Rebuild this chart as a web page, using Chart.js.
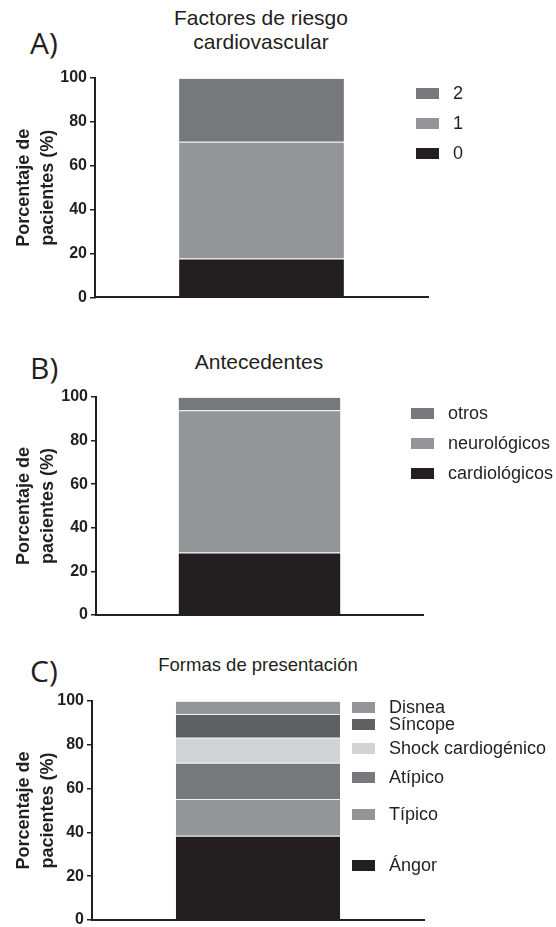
<!DOCTYPE html>
<html>
<head>
<meta charset="utf-8">
<script src="https://cdn.jsdelivr.net/npm/chart.js@4.4.1/dist/chart.umd.min.js"></script>
<style>
  body { margin: 0; background: #fff; }
  #page { position: relative; width: 556px; height: 927px; overflow: hidden;
          font-family: "Liberation Sans", Arial, sans-serif; color: #231f20; }
  canvas { position: absolute; left: 0; }
  .title { position: absolute; white-space: nowrap; transform: translateX(-50%); text-align: center; }
  .letter { position: absolute; left: 30px; font-family: "Open Sans", sans-serif; font-size: 30px; line-height: 30px; }
  .lg { position: absolute; font-size: 18px; line-height: 18px; white-space: nowrap; }
  .sw { position: absolute; width: 23px; height: 11px; }
</style>
</head>
<body>
<div id="page">
  <div class="letter" style="top:28px">A)</div>
  <div class="title" style="left:261px;top:6px;font-size:21px;line-height:24px">Factores de riesgo<br>cardiovascular</div>
  <canvas id="chartA" width="556" height="310" style="top:0"></canvas>

  <div class="letter" style="top:353px">B)</div>
  <div class="title" style="left:259px;top:351px;font-size:21px;line-height:21px">Antecedentes</div>
  <canvas id="chartB" width="556" height="320" style="top:310px"></canvas>

  <div class="letter" style="top:656px">C)</div>
  <div class="title" style="left:258px;top:656px;font-size:18.5px;line-height:18.5px">Formas de presentación</div>
  <canvas id="chartC" width="556" height="317" style="top:620px"></canvas>
</div>

<script>
// datos (% de pacientes), de abajo hacia arriba
const factoresLabels = ['0', '1', '2'];
const factoresValues = [17.7, 53.2, 29.1];
const factoresColors = ['#231f20', '#939598', '#77787b'];

const antecedentesLabels = ['cardiológicos', 'neurológicos', 'otros'];
const antecedentesValues = [28.7, 65.2, 6.1];
const antecedentesColors = ['#231f20', '#939598', '#77787b'];

const formasLabels = ['Ángor', 'Típico', 'Atípico', 'Shock cardiogénico', 'Síncope', 'Disnea'];
const formasValues = [38.5, 16.8, 16.5, 11.4, 10.9, 5.9];
const formasColors = ['#231f20', '#939598', '#77787b', '#d1d3d4', '#5f6062', '#939598'];

const yMax = 100;
const yStep = 20;
const yTitle = ['Porcentaje de', 'pacientes (%)'];

const ink = '#231f20';

// colocación de cada panel (px dentro de su canvas)
const layoutA = { top: 0, axisLeft: 95, padRight: 128, padTop: 78, padBottom: 12,
                  boxX: 416, textX: 453, rows: [153, 123, 93] };
const layoutB = { top: 310, axisLeft: 96, padRight: 133, padTop: 87, padBottom: 15,
                  boxX: 411, textX: 448, rows: [473, 443, 413] };
const layoutC = { top: 620, axisLeft: 92, padRight: 132, padTop: 81, padBottom: 17,
                  boxX: 352, textX: 389, rows: [865, 814, 777, 748, 724, 707] };

function makeChart(id, labels, values, colors, lay) {
  const ctx = document.getElementById(id).getContext('2d');
  const datasets = labels.map((lab, i) => ({
    label: lab,
    data: [values[i]],
    backgroundColor: colors[i],
    borderColor: 'rgba(220,221,222,0.45)',
    borderWidth: { top: 1, left: 0, right: 0, bottom: 0 },
    borderSkipped: false,
    categoryPercentage: 1,
    barPercentage: 0.495
  }));
  new Chart(ctx, {
    type: 'bar',
    data: { labels: [''], datasets: datasets },
    options: {
      responsive: false,
      animation: false,
      layout: { padding: { left: 0, right: lay.padRight, top: lay.padTop, bottom: lay.padBottom } },
      plugins: { legend: { display: false }, tooltip: { enabled: false }, title: { display: false } },
      scales: {
        x: {
          stacked: true,
          grid: { display: false, drawTicks: false },
          border: { display: true, color: ink, width: 2 },
          ticks: { display: false },
          afterFit: (s) => { s.height = 0; }
        },
        y: {
          stacked: true,
          min: 0,
          max: yMax,
          ticks: { stepSize: yStep, color: ink, padding: 3,
                   font: { family: 'Liberation Sans', size: 16, weight: 'bold' } },
          grid: { display: true, drawOnChartArea: false, drawTicks: true, tickLength: 5,
                  color: ink, lineWidth: 1.5 },
          border: { display: true, color: ink, width: 2 },
          title: { display: true, text: yTitle, color: ink,
                   font: { family: 'Liberation Sans', size: 18, weight: 'bold', lineHeight: 1.28 },
                   padding: { top: 13, bottom: 0 } },
          afterFit: (s) => { s.width = lay.axisLeft; }
        }
      }
    }
  });

  // leyenda a la derecha
  const page = document.getElementById('page');
  labels.forEach((lab, i) => {
    const sw = document.createElement('div');
    sw.className = 'sw';
    sw.style.left = lay.boxX + 'px';
    sw.style.top = (lay.rows[i] - 5.5) + 'px';
    sw.style.background = colors[i];
    page.appendChild(sw);
    const tx = document.createElement('div');
    tx.className = 'lg';
    tx.style.left = lay.textX + 'px';
    tx.style.top = (lay.rows[i] - 9) + 'px';
    tx.textContent = lab;
    page.appendChild(tx);
  });
}

makeChart('chartA', factoresLabels, factoresValues, factoresColors, layoutA);
makeChart('chartB', antecedentesLabels, antecedentesValues, antecedentesColors, layoutB);
makeChart('chartC', formasLabels, formasValues, formasColors, layoutC);
</script>
</body>
</html>
